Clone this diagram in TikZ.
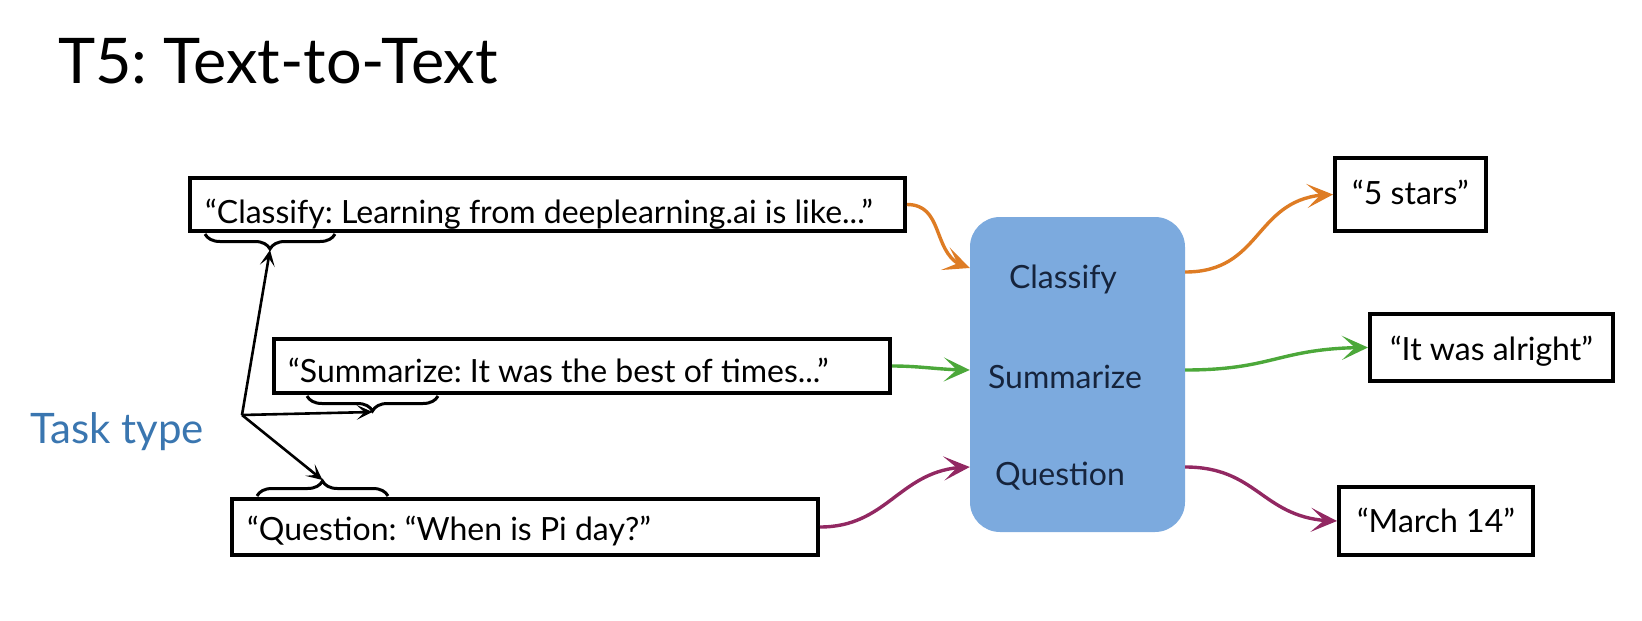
\documentclass[tikz,border=0pt]{standalone}
\usepackage{fontspec}
\setmainfont{Lato}
\usetikzlibrary{arrows.meta,bending,decorations.pathreplacing,calc}

\definecolor{orangeA}{RGB}{222,124,36}
\definecolor{greenA}{RGB}{76,168,58}
\definecolor{purpleA}{RGB}{146,40,98}
\definecolor{blueBox}{RGB}{124,170,222}
\definecolor{navy}{RGB}{22,36,60}
\definecolor{taskblue}{RGB}{58,118,176}

\begin{document}
\frenchspacing
\begin{tikzpicture}[x=1pt,y=-1pt,
  box/.style={draw=black,line width=4pt,inner sep=0pt,fill=white},
  txt/.style={inner sep=0pt,font=\fontsize{32}{38}\selectfont},
  lab/.style={inner sep=0pt,font=\fontsize{32}{38}\selectfont,text=navy},
  flow/.style={line width=3.4pt,-{Stealth[length=26pt,width=24pt,inset=13pt,flex]}},
  ptr/.style={line width=2.6pt,-{Stealth[length=16pt,width=15pt,inset=8pt]}},
  brc/.style={line width=3pt,decorate,decoration={brace,amplitude=15pt}}]

\useasboundingbox (0,0) rectangle (1642,621);

% title
\node[inner sep=0pt,anchor=base west,font=\fontsize{63}{70}\selectfont] (title) at (58,83) {T5: Text-to-Text};

% input boxes
\node[box,minimum width=715pt,minimum height=53pt] (b1) at (547.5,204.5) {};
\node[box,minimum width=616pt,minimum height=54pt] (b2) at (582,366) {};
\node[box,minimum width=586pt,minimum height=56pt] (b3) at (525,527) {};
\node[txt,anchor=base west] (t1) at (205,223) {“Classify: Learning from deeplearning.ai is like...”};
\node[txt,anchor=base west] (t2) at (288,382) {“Summarize: It was the best of times...”};
\node[txt,anchor=base west] (t3) at (247,540) {“Question: “When is Pi day?”};

% model box
\node[fill=blueBox,rounded corners=30pt,minimum width=215pt,minimum height=315pt,inner sep=0pt] (model) at (1077.5,374.5) {};
\node[lab,anchor=base] (l1) at (1063,288) {Classify};
\node[lab,anchor=base] (l2) at (1065,388) {Summarize};
\node[lab,anchor=base] (l3) at (1060,485) {Question};

% output boxes
\node[box,minimum width=151pt,minimum height=73pt] (o1) at (1410.5,194.5) {};
\node[box,minimum width=243pt,minimum height=67pt] (o2) at (1491.5,347.5) {};
\node[box,minimum width=194pt,minimum height=68pt] (o3) at (1436,521) {};
\node[txt,anchor=base] (p1) at (1410.5,204) {“5 stars”};
\node[txt,anchor=base] (p2) at (1491.5,360) {“It was alright”};
\node[txt,anchor=base] (p3) at (1436,532) {“March 14”};

% entry / exit points on the model box
\coordinate (mi1) at (model.west |- 0,268);
\coordinate (mi2) at (model.west |- 0,370);
\coordinate (mi3) at (model.west |- 0,467);
\coordinate (mo1) at (model.east |- 0,272);
\coordinate (mo2) at (model.east |- 0,370);
\coordinate (mo3) at (model.east |- 0,467);

% colored flows
\draw[flow,draw=orangeA,color=orangeA] (b1.east) .. controls +(40,0) and +(-40,-8) .. (mi1);
\draw[flow,draw=greenA,color=greenA] (b2.east) .. controls +(30,0) and +(-30,0) .. (mi2);
\draw[flow,draw=purpleA,color=purpleA] (b3.east) .. controls +(70,0) and +(-70,0) .. (mi3);
\draw[flow,draw=orangeA,color=orangeA] (mo1) .. controls +(80,0) and +(-80,0) .. (o1.west);
\draw[flow,draw=greenA,color=greenA] (mo2) .. controls +(90,0) and +(-90,0) .. (o2.west);
\draw[flow,draw=purpleA,color=purpleA] (mo3) .. controls +(75,0) and +(-75,0) .. (o3.west);

% braces
\draw[brc] (335,234) -- (205,234);
\draw[brc] (438,396) -- (307,396);
\draw[brc] (257,496) -- (388,496);
\coordinate (br1) at (270,250);
\coordinate (br2) at (372.5,412);
\coordinate (br3) at (322.5,480);

% task type
\node[inner sep=0pt,anchor=base west,font=\fontsize{42}{48}\selectfont,text=taskblue] (task) at (30,443) {Task type};
\coordinate (J) at (242,415);
\draw[ptr] (J) -- (br1);
\draw[ptr] (J) -- (br2);
\draw[ptr] (J) -- (br3);
\end{tikzpicture}
\end{document}
